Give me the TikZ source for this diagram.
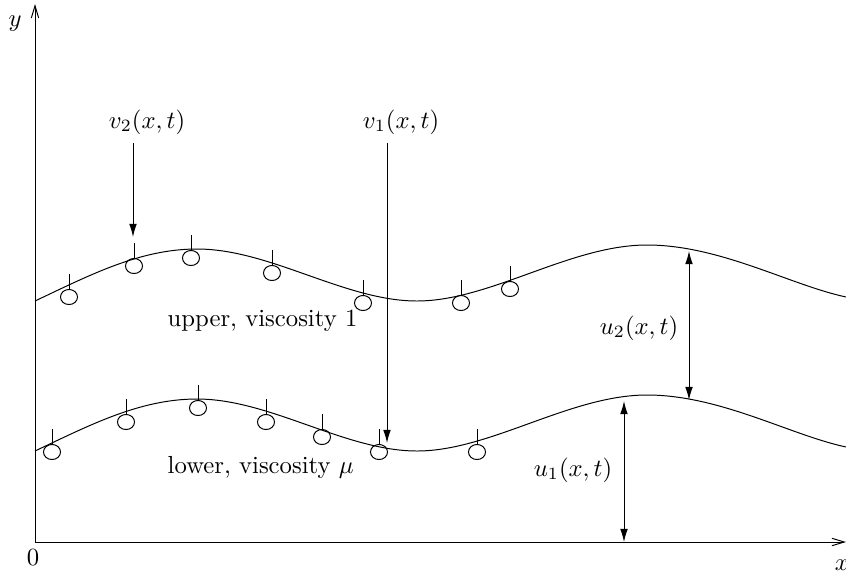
\documentclass[tikz,border=0pt]{standalone}
\usepackage{amsmath}
\usetikzlibrary{arrows.meta, shapes.geometric}

\begin{document}
\begin{tikzpicture}[
    x=0.405pt, y=-0.405pt,
    bubble/.style={ellipse, draw, inner sep=0pt,
                   minimum width=6.9pt, minimum height=6.1pt},
    axis/.style={-{Straight Barb[length=5pt, width=3pt]}},
    arrow/.style={-{Latex[length=5.3pt, width=3.1pt]}},
    both/.style={{Latex[length=5.3pt, width=3.1pt]}-{Latex[length=5.3pt, width=3.1pt]}}
]
    \useasboundingbox (0,0) rectangle (846,576);

    % axes
    \coordinate (O) at (35,542);
    \coordinate (ytip) at (35,4);
    \coordinate (xtip) at (846,542);
    \draw[axis] (O) -- (ytip);
    \draw[axis] (O) -- (xtip);
    \node (ylab) at (15,24) {$y$};
    \node (zero) at (33,558) {$0$};
    \node (xlab) at (842,565) {$x$};

    % the two interfaces
    \foreach \dy in {0,150}
        \draw[shift={(0,\dy)}] (35,301) .. controls (90,275) and (140,249) .. (197,249)
            .. controls (270,249) and (345,301) .. (417,301)
            .. controls (490,301) and (570,245) .. (647,245)
            .. controls (720,245) and (790,285) .. (846,297);

    % particles with their ticks
    \foreach \n/\px/\py in {a1/69/297, a2/134/266, a3/191/258, a4/272/273,
                            a5/363/303, a6/461/303, a7/510/289,
                            b1/52/452, b2/126/422, b3/198/408, b4/266/422,
                            b5/322/437, b6/379/452, b7/477/452} {
        \node[bubble] (\n) at (\px,\py) {};
        \draw (\n.north) -- ++(0,-15);
    }

    % layer labels
    \node (upper) [anchor=base west] at (159,326) {upper, viscosity 1};
    \node (lower) [anchor=base west] at (159,473) {lower, viscosity $\mu$};

    % velocities
    \node (v2lab) at (147,122) {$v_2(x,t)$};
    \node (v1lab) at (401,122) {$v_1(x,t)$};
    \coordinate (v2end) at (133,237);
    \coordinate (v1end) at (387,443);
    \draw[arrow] (v2end |- v2lab.south) -- (v2end);
    \draw[arrow] (v1end |- v1lab.south) -- (v1end);

    % thicknesses
    \node (u2lab) at (639,328) {$u_2(x,t)$};
    \node (u1lab) at (573,470) {$u_1(x,t)$};
    \coordinate (u2top) at (689,251);
    \coordinate (u2bot) at (689,400);
    \coordinate (u1top) at (624,401);
    \coordinate (u1bot) at (624,542);
    \draw[both] (u2top) -- (u2bot);
    \draw[both] (u1top) -- (u1bot);
\end{tikzpicture}
\end{document}
